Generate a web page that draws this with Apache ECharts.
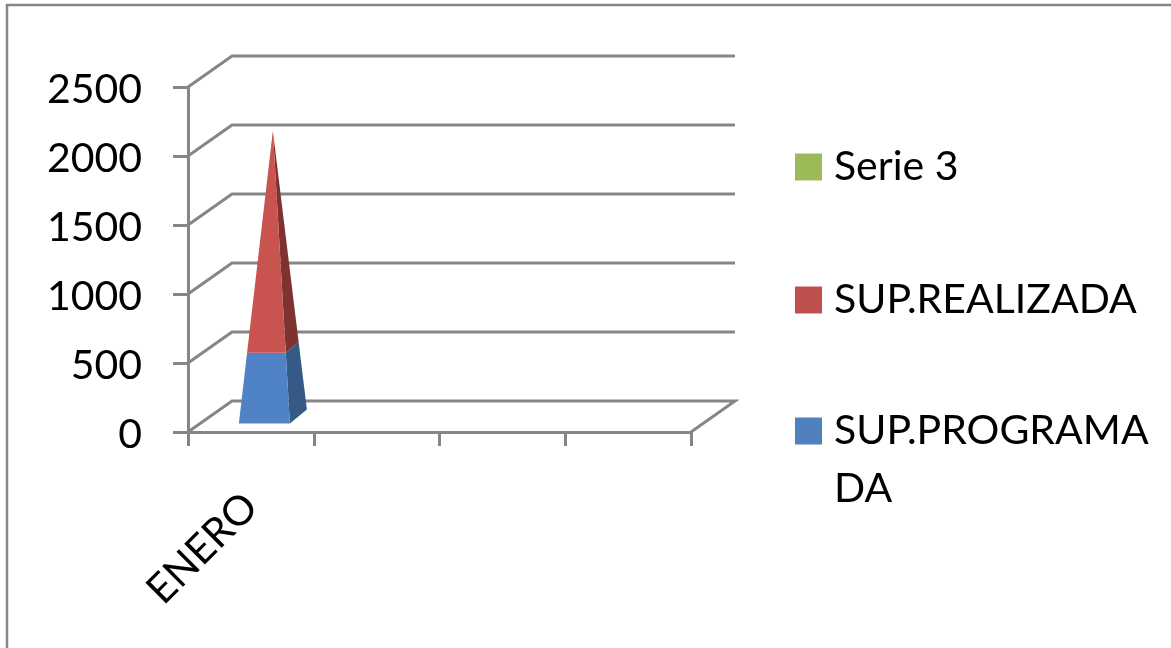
<!DOCTYPE html>
<html><head><meta charset="utf-8">
<style>html,body{margin:0;padding:0;background:#fff;overflow:hidden}#c{width:1171px;height:648px}</style>
<script src="https://cdn.jsdelivr.net/npm/echarts@6/dist/echarts.min.js"></script>
</head><body><div id="c"></div>
<script>
var categories = ['ENERO', '', '', ''];
var yTicks = [0, 500, 1000, 1500, 2000, 2500];
var programada = [500];
var realizada = [1570];
var serie3 = [0];

var GREY = '#868686', FONT = 'Lato', FS = 41, LW = 3;
var DX = 44, DY = -31;
var stacks = [
  {name: 'SUP.PROGRAMADA', values: programada, below: function () { return 0; }, front: '#5083C5', side: '#345A85', color: '#4F81BD'},
  {name: 'SUP.REALIZADA', values: realizada, below: function (i) { return programada[i]; }, front: '#C8534F', side: '#7F3331', color: '#C0504D'},
  {name: 'Serie 3', values: serie3, below: function (i) { return programada[i] + realizada[i]; }, front: '#9BBB59', side: '#6F8A3C', color: '#9BBB59'}
];

function pyramidRender(st) {
  return function (params, api) {
    var i = api.value(0), v = api.value(1);
    if (!v) return null;
    var lo = st.below(i), total = programada[i] + realizada[i] + serie3[i];
    var c0 = api.coord([i, 0]), cT = api.coord([i, total]);
    var cx = c0[0] + DX / 2, cy = c0[1] + DY / 2;
    var apex = [cx, cT[1] + DY / 2];
    var fl = [cx - 34, cy + 7], fr = [cx + 17, cy + 7], br = [cx + 34, cy - 7];
    var at = function (p, f) { return [p[0] + (apex[0] - p[0]) * f, p[1] + (apex[1] - p[1]) * f]; };
    var a = lo / total, b = (lo + v) / total;
    return {type: 'group', children: [
      {type: 'polygon', shape: {points: [at(fr, a), at(br, a), at(br, b), at(fr, b)]}, style: {fill: st.side}},
      {type: 'polygon', shape: {points: [at(fl, a), at(fr, a), at(fr, b), at(fl, b)]}, style: {fill: st.front}}
    ]};
  };
}

function wallRender(params, api) {
  var v = api.value(1);
  var a = api.coord([0, v]), e = api.coord([categories.length - 1, v]);
  var band = api.size([1, 0])[0];
  var x0 = a[0] - band / 2, x1 = e[0] + band / 2, y = a[1];
  var pts = [[x0, y], [x0 + DX, y + DY], [x1 + DX, y + DY]];
  if (v === 0) pts.push([x1, y]);
  return {type: 'polyline', shape: {points: pts}, style: {fill: 'none', stroke: GREY, lineWidth: LW}};
}

var series = [{
  type: 'custom', name: 'walls', silent: true, renderItem: wallRender,
  data: yTicks.map(function (v) { return [0, v]; }), z: 1
}].concat(stacks.map(function (st) {
  return {
    type: 'custom', name: st.name, renderItem: pyramidRender(st), z: 3,
    itemStyle: {color: st.color},
    data: st.values.map(function (v, i) { return [i, v]; })
  };
}));

var legendTops = [{n: 'Serie 3', t: 138}, {n: 'SUP.REALIZADA', t: 271}, {n: 'SUP.PROGRAMADA', t: 344}];
var chart = echarts.init(document.getElementById('c'), null, {renderer: 'canvas'});
chart.setOption({
  animation: false,
  backgroundColor: '#fff',
  grid: {left: 188, right: 480, top: 87, bottom: 216},
  xAxis: {
    type: 'category', data: categories,
    axisLine: {lineStyle: {color: GREY, width: LW}},
    axisTick: {show: true, length: 14, lineStyle: {color: GREY, width: LW}},
    axisLabel: {interval: 0, rotate: 45, margin: 68, color: '#000', fontFamily: FONT, fontSize: FS},
    splitLine: {show: false}
  },
  yAxis: {
    type: 'value', min: 0, max: 2500, interval: 500,
    axisLine: {show: true, lineStyle: {color: GREY, width: LW}},
    axisTick: {show: true, length: 15, lineStyle: {color: GREY, width: LW}},
    axisLabel: {margin: 46, color: '#000', fontFamily: FONT, fontSize: FS, verticalAlign: 'top', lineHeight: 6,
      formatter: function (v) { return String(v); }},
    splitLine: {show: false}
  },
  legend: legendTops.map(function (l) {
    return {
      data: [l.n], orient: 'vertical', left: 795, top: l.t,
      padding: 0, icon: 'rect', itemWidth: 27, itemHeight: 27, itemGap: 0,
      selectedMode: false,
      formatter: function (n) { return n === 'SUP.PROGRAMADA' ? '\nSUP.PROGRAMA\nDA' : n; },
      textStyle: {color: '#000', fontFamily: FONT, fontSize: FS, lineHeight: 58, padding: [0, 0, 0, 7]}
    };
  }),
  graphic: [{type: 'rect', silent: true, shape: {x: 7, y: 5, width: 1300, height: 800}, style: {fill: 'none', stroke: GREY, lineWidth: 2.5}, z: 0}],
  series: series
});
</script></body></html>
